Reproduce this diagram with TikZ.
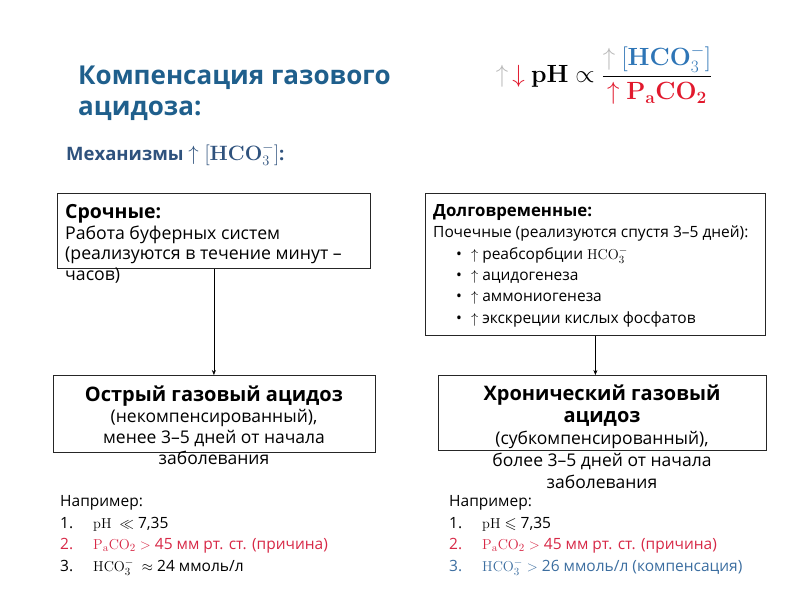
\documentclass[tikz,border=0pt]{standalone}
\usepackage{amsmath,amssymb}
\usepackage[no-math]{fontspec}
\setmainfont{Open Sans}
\usetikzlibrary{arrows.meta}

\definecolor{titelblau}{RGB}{31,95,140}
\definecolor{mechblau}{RGB}{47,82,125}
\definecolor{formelblau}{RGB}{46,117,182}
\definecolor{listblau}{RGB}{60,110,160}
\definecolor{rot}{RGB}{225,25,45}
\definecolor{listrot}{RGB}{215,40,70}

\tikzset{
	kasten/.style={draw=black!85, line width=0.8pt, inner sep=0, anchor=north west},
	txt/.style={inner sep=0, anchor=base west, align=left}, % base = letzte Zeile
	pfeil/.style={-{Stealth[length=5pt,width=4pt]}, line width=0.5pt}
}
\newcommand{\nr}[1]{\makebox[33pt][l]{#1}}
\newcommand{\pkt}{\hspace*{23pt}\textbullet\hspace{9pt}$\uparrow$\ }
\newcommand{\gross}{\fontsize{20}{21}\selectfont\bfseries}
\newcommand{\klein}{\fontsize{17.5}{21}\selectfont\mdseries}

\begin{document}
\begin{tikzpicture}[x=1pt, y=-1pt]
	\useasboundingbox (0,0) rectangle (800,600); % Rand wie Vorlage
	
	% Ueberschrift
	\node[txt, text=titelblau, font=\fontsize{26}{31}\selectfont\bfseries] (titel) at (78,115) {Компенсация газового\\ацидоза:};
	\node[txt, text=mechblau, font=\fontsize{18.5}{20}\selectfont\bfseries] (mech) at (66,160) {Механизмы {\fontsize{21}{20}\selectfont$\uparrow[\mathbf{HCO}_3^-]$}:};
	
	% Formel rechts oben
	\node[inner sep=0, font=\fontsize{24}{28}\selectfont] (formel) at (604,75)
		{$\textcolor{gray!55}{\uparrow}\,\textcolor{rot}{\downarrow}\ \mathbf{pH}\propto
		\dfrac{\textcolor{gray!55}{\uparrow}\ \textcolor{formelblau}{[\mathbf{HCO}_3^-]}}{\textcolor{rot}{\uparrow\mathbf{P_aCO_2}}}$};
	
	% Kaesten
	\node[kasten, minimum width=313pt, minimum height=75pt] (srochno) at (57,193) {};
	\node[kasten, minimum width=340pt, minimum height=142pt] (dolgo) at (425,193) {};
	\node[kasten, minimum width=322pt, minimum height=77pt] (ostryj) at (53,375) {};
	\node[kasten, minimum width=328pt, minimum height=75pt] (chron) at (438,375) {};
	
	\draw[pfeil] (srochno.south) -- (srochno.south |- ostryj.north);
	\draw[pfeil] (dolgo.south) -- (dolgo.south |- chron.north);
	
	% Texte oben
	\node[txt, font=\fontsize{17.7}{20.5}\selectfont] (t1) at (65,280)
		{\fontsize{19.5}{20.5}\selectfont\bfseries Срочные:\\
		Работа буферных систем\\
		(реализуются в течение минут –\\
		часов)};
	\node[txt, font=\fontsize{15.5}{21.3}\selectfont] (t2) at (433,323)
		{\fontsize{16.8}{21.3}\selectfont\bfseries Долговременные:\\
		Почечные (реализуются спустя 3–5 дней):\\
		\pkt реабсорбции $\mathrm{HCO}_3^-$\\
		\pkt ацидогенеза\\
		\pkt аммониогенеза\\
		\pkt экскреции кислых фосфатов};
	
	% Texte unten
	\node[inner sep=0, anchor=base, align=center, font=\klein] (t3) at (214,464)
		{\gross Острый газовый ацидоз\\
		(некомпенсированный),\\
		менее 3–5 дней от начала\\
		заболевания};
	\node[inner sep=0, anchor=base, align=center, font=\fontsize{17.5}{21.8}\selectfont] (t4) at (602,488)
		{\gross Хронический газовый\\
		\gross ацидоз\\
		(субкомпенсированный),\\
		более 3–5 дней от начала\\
		заболевания};
	
	% Beispiele
	\node[txt, font=\fontsize{15.5}{21.5}\selectfont] (bsp1) at (60,571)
		{Например:\\
		\nr{1.}$\mathrm{pH}\ \ll$ 7,35\\
		\color{listrot}\nr{2.}$\mathrm{P_aCO_2}>$ 45 мм рт. ст. (причина)\\
		\color{black}\nr{3.}$\mathrm{HCO}_3^-\ \approx$ 24 ммоль/л};
	\node[txt, font=\fontsize{15.5}{21.5}\selectfont] (bsp2) at (449,571)
		{Например:\\
		\nr{1.}$\mathrm{pH}\leqslant$ 7,35\\
		\color{listrot}\nr{2.}$\mathrm{P_aCO_2}>$ 45 мм рт. ст. (причина)\\
		\color{listblau}\nr{3.}$\mathrm{HCO}_3^->$ 26 ммоль/л (компенсация)};
\end{tikzpicture}
\end{document}
